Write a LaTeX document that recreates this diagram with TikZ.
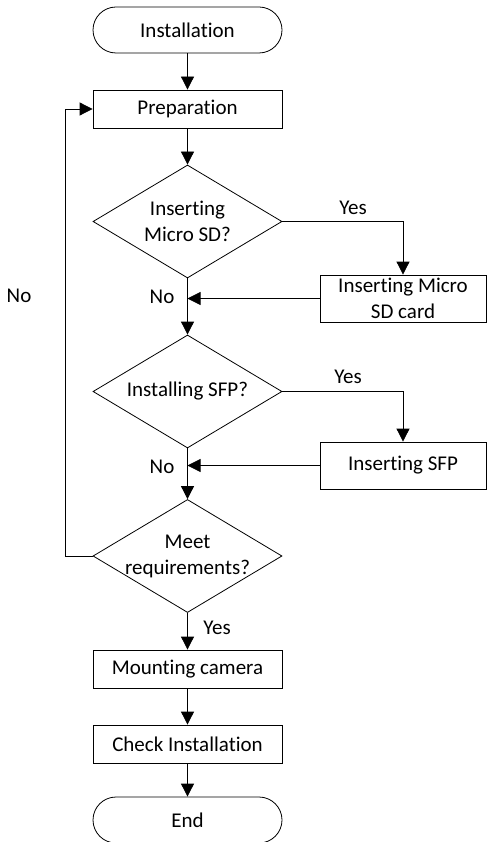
\documentclass[tikz,border=0pt]{standalone}
\usepackage{fontspec}
\setmainfont[Ligatures=NoCommon]{Carlito}
\usetikzlibrary{shapes.geometric,arrows.meta}
\begin{document}
\begin{tikzpicture}[x=1pt,y=-1pt,
  every node/.style={font=\fontsize{21}{26}\selectfont, text=black},
  term/.style={draw, line width=0.8pt, rounded corners=23pt, minimum width=189pt, minimum height=46pt, inner sep=0pt},
  proc/.style={draw, line width=0.8pt, minimum width=189pt, minimum height=38pt, inner sep=0pt, align=center},
  side/.style={draw, line width=0.8pt, minimum width=166pt, minimum height=47pt, inner sep=0pt, align=center},
  dec/.style={draw, line width=0.8pt, diamond, minimum width=189pt, minimum height=113pt, inner sep=0pt},
  dtext/.style={align=center, inner sep=0pt},
  lab/.style={inner sep=0pt},
  flow/.style={line width=0.8pt, -{Triangle[length=13pt,width=13pt]}},
  line/.style={line width=0.8pt}
]
\useasboundingbox (0,0) rectangle (487,842);
\node[term] (start) at (187.5,30) {Installation};
\node[proc] (prep) at (187.5,109) {Preparation};
\node[dec] (d1) at (187.5,221.5) {};
\node[dtext] (d1t) at (d1.center) {Inserting\\Micro SD?};
\node[side] (sd) at (403,298.5) {Inserting Micro\\SD card};
\node[dec] (d2) at (187.5,391.5) {};
\node[dtext] (d2t) at (d2.center) {Installing SFP?};
\node[side] (sfp) at (403,465.5) {Inserting SFP};
\node[dec] (d3) at (187.5,556) {};
\node[dtext] (d3t) at (d3.center) {Meet\\requirements?};
\node[proc] (mount) at (187.5,669) {Mounting camera};
\node[proc] (check) at (187.5,744) {Check Installation};
\node[term] (end) at (187.5,820) {End};
\coordinate (loop) at (65,556);

\draw[flow] (start) -- (prep);
\draw[flow] (prep) -- (d1.north);
\draw[flow] (d1.east) -| (sd.north);
\draw[flow] (d1.south) -- (d2.north);
\draw[flow] (sd.west) -- (sd.west -| d1.south);
\draw[flow] (d2.east) -| (sfp.north);
\draw[flow] (d2.south) -- (d3.north);
\draw[flow] (sfp.west) -- (sfp.west -| d2.south);
\draw[flow] (d3.west) -- (loop) |- (prep.west);
\draw[flow] (d3.south) -- (mount.north);
\draw[flow] (mount) -- (check);
\draw[flow] (check) -- (end);

\node[lab] (y1) at (353,208) {Yes};
\node[lab] (n1) at (162,297) {No};
\node[lab] (y2) at (348,377) {Yes};
\node[lab] (n2) at (162,467) {No};
\node[lab] (n3) at (19,296) {No};
\node[lab] (y3) at (217,628) {Yes};
\end{tikzpicture}
\end{document}
